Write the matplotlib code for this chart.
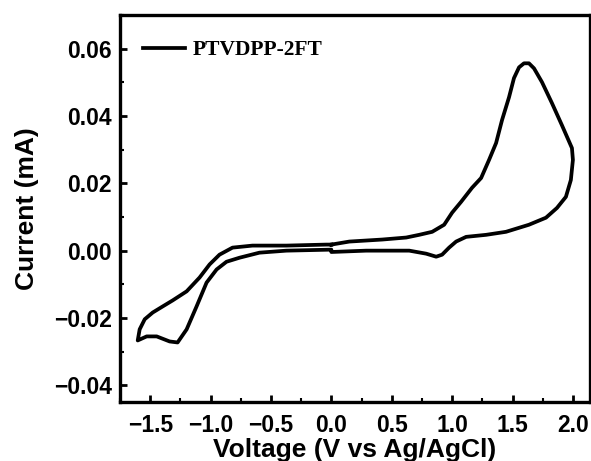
import matplotlib
matplotlib.use('Agg')
import matplotlib.pyplot as plt
from matplotlib.ticker import MultipleLocator, FuncFormatter

# cyclic voltammogram (V vs Ag/AgCl, mA)
voltage = [0.0, 0.149, 0.421, 0.620, 0.727, 0.835, 0.934, 1.0, 1.074, 1.165,
           1.24, 1.306, 1.364, 1.413, 1.471, 1.512, 1.554, 1.595, 1.636, 1.678,
           1.744, 1.826, 1.909, 1.992,
           2.0, 1.983, 1.942, 1.868, 1.777, 1.636, 1.446, 1.281, 1.116, 1.033,
           0.975, 0.917, 0.868, 0.785, 0.645, 0.289, 0.0, 0.0,
           -0.372, -0.595, -0.760, -0.868, -0.950, -1.033, -1.116, -1.198,
           -1.273, -1.339, -1.446, -1.529, -1.603,
           -1.587, -1.545, -1.479, -1.397, -1.314, -1.198, -1.091, -1.008,
           -0.926, -0.818, -0.653, -0.372, -0.041, 0.0]
current = [0.0018, 0.0027, 0.0033, 0.0039, 0.0047, 0.0056, 0.0077, 0.0113, 0.0145, 0.0187,
           0.0216, 0.0270, 0.0320, 0.0388, 0.0456, 0.0513, 0.0545, 0.0557, 0.0557, 0.0542,
           0.0501, 0.0439, 0.0373, 0.0305,
           0.0270, 0.0210, 0.0160, 0.0127, 0.0098, 0.0077, 0.0056, 0.0047, 0.0041, 0.0027,
           0.0009, -0.0012, -0.0018, -0.0009, 0.0, 0.0, -0.0004, 0.0003,
           0.0, -0.0006, -0.0021, -0.0033, -0.0056, -0.0095, -0.0166, -0.0234,
           -0.0273, -0.0270, -0.0255, -0.0255, -0.0267,
           -0.0234, -0.0204, -0.0184, -0.0166, -0.0148, -0.0121, -0.0080, -0.0041,
           -0.0012, 0.0009, 0.0015, 0.0015, 0.0018, 0.0018]

plt.rcParams['font.family'] = 'Liberation Sans'
plt.rcParams['font.weight'] = 'bold'

fig = plt.figure(figsize=(5.91, 4.61), dpi=100)
ax = fig.add_axes([0.203, 0.128, 0.795, 0.839])

ax.plot(voltage, current, color='black', lw=2.7, label='PTVDPP-2FT')

ax.set_xlim(-1.75, 2.14)
ax.set_ylim(-0.045, 0.07)
ax.xaxis.set_major_locator(MultipleLocator(0.5))
ax.xaxis.set_minor_locator(MultipleLocator(0.25))
ax.yaxis.set_major_locator(MultipleLocator(0.02))
ax.yaxis.set_minor_locator(MultipleLocator(0.01))
ax.xaxis.set_major_formatter(FuncFormatter(lambda v, p: ('%.1f' % v).replace('-', '\u2212') if abs(v) > 1e-9 else '0.0'))
ax.yaxis.set_major_formatter(FuncFormatter(lambda v, p: ('%.2f' % v).replace('-', '\u2212') if abs(v) > 1e-9 else '0.00'))
ax.tick_params(which='major', direction='in', length=5, width=2, labelsize=16.5)
ax.tick_params(axis='x', which='major', pad=9)
ax.tick_params(axis='y', which='major', pad=6)
ax.tick_params(which='minor', direction='in', length=3, width=1.5)
for s in ax.spines.values():
    s.set_linewidth(2.4)

ax.set_xlabel('Voltage (V vs Ag/AgCl)', fontsize=19, fontweight='bold')
ax.set_ylabel('Current (mA)', fontsize=19, fontweight='bold')
ax.xaxis.set_label_coords(0.5, -0.093)
ax.yaxis.set_label_coords(-0.172, 0.5)

ax.legend(loc='center left', frameon=False, handlelength=1.95, handletextpad=0.37,
          borderpad=0, borderaxespad=0, bbox_to_anchor=(0.049, 0.91),
          prop={'family': 'Liberation Serif', 'weight': 'bold', 'size': 15.5})

fig.savefig('out.png', dpi=100)
